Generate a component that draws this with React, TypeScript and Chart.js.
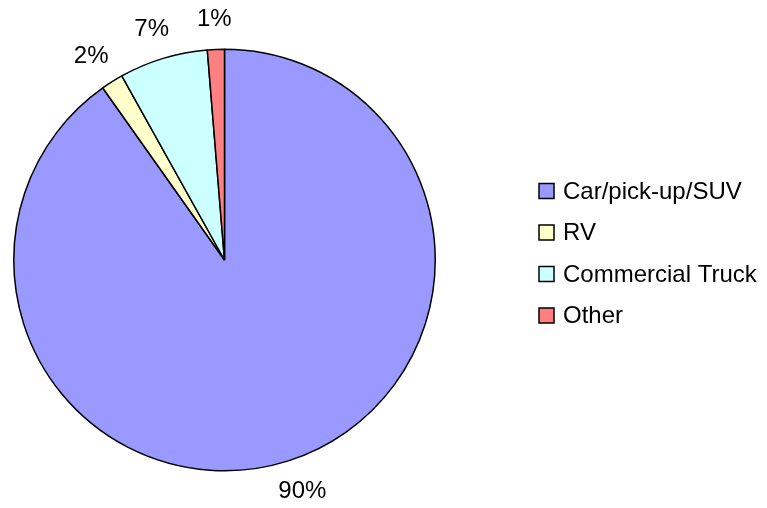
import React, { useEffect, useRef } from "react";
import { Chart, registerables } from "chart.js";

Chart.register(...registerables);

const categories = ["Car/pick-up/SUV", "RV", "Commercial Truck", "Other"];
const shares = [90.2, 1.7, 6.8, 1.3];
const pctLabels = ["90%", "2%", "7%", "1%"];
const colors = ["#9999FF", "#FFFFCC", "#CCFFFF", "#FF8080"];

const FONT = '24px "Liberation Sans", Arial, sans-serif';

const labelPlugin = {
  id: "outLabels",
  afterDatasetsDraw(chart: any) {
    const ctx = chart.ctx;
    const meta = chart.getDatasetMeta(0);
    ctx.save();
    ctx.font = FONT;
    ctx.fillStyle = "#000";
    ctx.textAlign = "center";
    ctx.textBaseline = "middle";
    meta.data.forEach((arc: any, i: number) => {
      const { x, y, startAngle, endAngle, outerRadius } = arc.getProps(
        ["x", "y", "startAngle", "endAngle", "outerRadius"],
        true
      );
      const mid = (startAngle + endAngle) / 2;
      const dx = Math.cos(mid);
      const dy = Math.sin(mid);
      const w = ctx.measureText(pctLabels[i]).width;
      const h = 19;
      const d = outerRadius + 22;
      const lx = x + dx * d + dx * w / 2;
      const ly = y + dy * d + dy * h / 2;
      ctx.fillText(pctLabels[i], lx, ly + 1);
    });
    ctx.restore();
  },
};

const legendPlugin = {
  id: "customLegend",
  afterDraw(chart: any) {
    const ctx = chart.ctx;
    const x0 = 539;
    const y0 = 191;
    const step = 41.5;
    const box = 15;
    ctx.save();
    ctx.font = FONT;
    ctx.textAlign = "left";
    ctx.textBaseline = "middle";
    chart.data.labels.forEach((lab: string, i: number) => {
      const cy = y0 + i * step;
      ctx.fillStyle = chart.data.datasets[0].backgroundColor[i];
      ctx.fillRect(x0, cy - box / 2, box, box);
      ctx.lineWidth = 1.5;
      ctx.strokeStyle = "#000";
      ctx.strokeRect(x0, cy - box / 2, box, box);
      ctx.fillStyle = "#000";
      ctx.fillText(lab, x0 + 24, cy + 1);
    });
    ctx.restore();
  },
};

export default function App() {
  const ref = useRef<HTMLCanvasElement | null>(null);
  useEffect(() => {
    if (!ref.current) return;
    const chart = new Chart(ref.current, {
      type: "pie",
      data: {
        labels: categories,
        datasets: [
          {
            data: shares,
            backgroundColor: colors,
            borderColor: "#000",
            borderWidth: 1.5,
          },
        ],
      },
      options: {
        responsive: false,
        animation: false,
        layout: { padding: { left: 13, top: 48, right: 331, bottom: 36 } },
        plugins: {
          legend: { display: false },
          tooltip: { enabled: false },
        },
      },
      plugins: [labelPlugin, legendPlugin],
    });
    return () => chart.destroy();
  }, []);
  return (
    <div style={{ position: "absolute", left: 0, top: 0, width: 767, height: 508, background: "#fff" }}>
      <canvas ref={ref} width={767} height={508} />
    </div>
  );
}
